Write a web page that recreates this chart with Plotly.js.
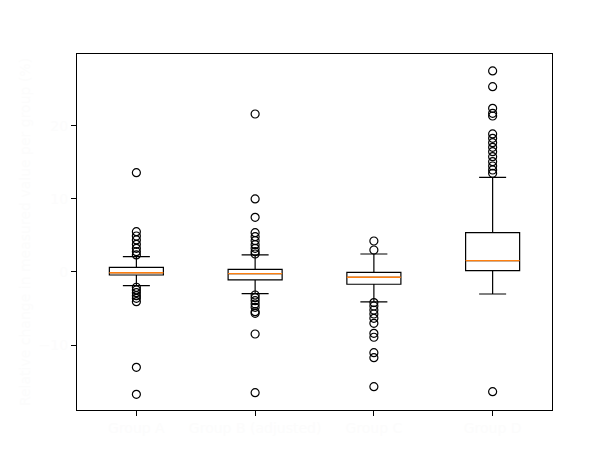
<!DOCTYPE html>
<html>
<head>
<meta charset="utf-8">
<script src="https://cdn.plot.ly/plotly-3.0.1.min.js"></script>
<style>html,body{margin:0;padding:0;background:#fff;}#chart{width:614px;height:461px;}</style>
</head>
<body>
<div id="chart"></div>
<script>
// ---- data ----
const categories = [1, 2, 3, 4];
const categoryLabels = ["Group A", "Group B (adjusted)", "Group C", "Group D"];
const q1 = [-0.41, -1.09, -1.68, 0.18];
const median = [-0.10, -0.23, -0.73, 1.55];
const q3 = [0.64, 0.37, -0.04, 5.38];
const lowerWhisker = [-1.87, -2.97, -4.10, -3.01];
const upperWhisker = [2.09, 2.33, 2.46, 12.95];
const outliers1 = [13.58, 5.51, 4.92, 4.38, 3.79, 3.24, 2.78, 2.33, -2.09, -2.46, -2.83, -3.24, -3.60, -4.06, -13.04, -16.73];
const outliers2 = [21.61, 9.99, 7.48, 5.38, 4.83, 4.28, 3.73, 3.24, 2.78, 2.46, -3.15, -3.51, -3.92, -4.38, -4.83, -5.43, -5.65, -8.48, -16.51];
const outliers3 = [4.24, 3.01, -4.19, -4.65, -5.20, -5.75, -6.34, -7.02, -8.39, -8.93, -11.04, -11.72, -15.69];
const outliers4 = [27.50, 25.35, 22.39, 21.71, 21.34, 18.88, 18.29, 17.69, 17.06, 16.46, 15.77, 15.09, 14.50, 13.95, 13.50, -16.37];
const yTickValues = [-10, 0, 10, 20];
const yTickLabels = ["\u221210", "0", "10", "20"];
const yTitle = "Relative change in measured value per group (%)";

// ---- styles ----
const boxWidth = 0.455;
const faint = "#fcfcfc";
const outlierSets = [outliers1, outliers2, outliers3, outliers4];

const outX = [], outY = [];
outlierSets.forEach((arr, i) => arr.forEach(v => { outX.push(categories[i]); outY.push(v); }));

const medX = [], medY = [];
categories.forEach((c, i) => {
  medX.push(c - boxWidth / 2, c + boxWidth / 2, null);
  medY.push(median[i], median[i], null);
});

const traces = [
  {
    type: "box",
    x: categories,
    q1: q1, median: median, q3: q3,
    lowerfence: lowerWhisker, upperfence: upperWhisker,
    boxpoints: false,
    width: boxWidth,
    whiskerwidth: 0.5,
    fillcolor: "rgba(0,0,0,0)",
    line: {color: "#000", width: 1.2},
    hoverinfo: "skip",
    showlegend: false
  },
  {
    type: "scatter", mode: "lines",
    x: medX, y: medY,
    line: {color: "#ff7f0e", width: 1.4},
    hoverinfo: "skip", showlegend: false
  },
  {
    type: "scatter", mode: "markers",
    x: outX, y: outY,
    marker: {symbol: "circle-open", size: 8, color: "#000", line: {width: 1.2, color: "#000"}},
    hoverinfo: "skip", showlegend: false
  }
];

const layout = {
  width: 614, height: 461,
  margin: {l: 77, r: 62, t: 54, b: 51},
  paper_bgcolor: "#fff", plot_bgcolor: "#fff",
  font: {family: "DejaVu Sans", size: 14, color: faint},
  showlegend: false,
  xaxis: {
    range: [0.5, 4.5], tickvals: categories, ticktext: categoryLabels,
    showgrid: false, zeroline: false, showline: true, mirror: true,
    linecolor: "#000", linewidth: 1, ticks: "outside", ticklen: 5, tickcolor: "#000", tickwidth: 1,
    tickfont: {color: faint, size: 14}
  },
  yaxis: {
    range: [-18.88, 29.82], tickvals: yTickValues, ticktext: yTickLabels,
    showgrid: false, zeroline: false, showline: true, mirror: true,
    linecolor: "#000", linewidth: 1, ticks: "outside", ticklen: 5, tickcolor: "#000", tickwidth: 1,
    tickfont: {color: faint, size: 14},
    title: {text: yTitle, font: {color: faint, size: 14}, standoff: 4}
  }
};

Plotly.newPlot("chart", traces, layout, {displayModeBar: false, staticPlot: true});
</script>
</body>
</html>
